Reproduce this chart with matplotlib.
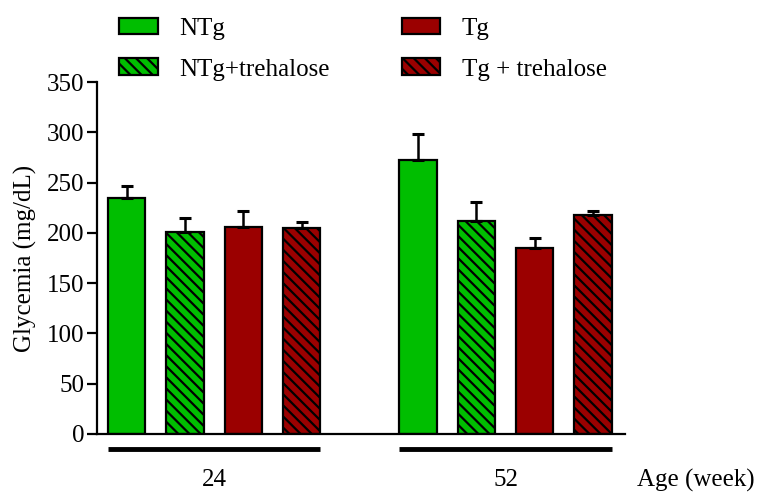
import numpy as np
import matplotlib
matplotlib.use('Agg')
import matplotlib.pyplot as plt

# values
ages = ['24', '52']
groups = ['NTg', 'NTg+trehalose', 'Tg', 'Tg + trehalose']
means = {
    'NTg': [235, 272],
    'NTg+trehalose': [201, 212],
    'Tg': [206, 185],
    'Tg + trehalose': [205, 218],
}
errors = {
    'NTg': [12, 26],
    'NTg+trehalose': [14, 19],
    'Tg': [16, 10],
    'Tg + trehalose': [6, 4],
}

green = '#00BE00'
red = '#9B0000'
colors = [green, green, red, red]
hatches = [None, '\\\\\\', None, '\\\\\\']

plt.rcParams['font.family'] = ['Liberation Serif', 'DejaVu Serif']
plt.rcParams['hatch.linewidth'] = 1.6
fs = 18

fig = plt.figure(figsize=(7.61, 4.92), dpi=100)
ax = fig.add_axes([0.1275, 0.1179, 0.8213 - 0.1275, 0.8333 - 0.1179])

width = 0.64
for i, g in enumerate(groups):
    x = np.array([i, i + 5])
    ax.bar(x, means[g], width=width, color=colors[i], hatch=hatches[i],
           edgecolor='black', linewidth=1.6, label=g, zorder=2)
    ax.errorbar(x, means[g], yerr=[np.zeros(2), errors[g]], fmt='none',
                ecolor='black', elinewidth=1.8, capsize=4, capthick=2.2, zorder=3)

ax.set_xlim(-0.51, 8.55)
ax.set_ylim(0, 350)
ax.set_yticks(np.arange(0, 351, 50))
ax.set_xticks([])
ax.spines['top'].set_visible(False)
ax.spines['right'].set_visible(False)
ax.spines['left'].set_linewidth(1.6)
ax.spines['bottom'].set_linewidth(1.6)
ax.tick_params(axis='y', direction='out', length=7, width=1.6, pad=2, labelsize=fs)
ax.set_ylabel('Glycemia (mg/dL)', fontsize=fs, labelpad=7)

# group underlines and age labels below the axis
for k, age in enumerate(ages):
    start = k * 5
    ax.plot([start - 0.32, start + 3 + 0.32], [-15, -15], color='black',
            linewidth=3.5, clip_on=False, solid_capstyle='butt')
    ax.text(start + 1.5, -46, age, ha='center', va='center', fontsize=fs)
ax.text(10.78, -46, 'Age (week)', ha='right', va='center', fontsize=fs, clip_on=False)

fig.legend(loc='upper left', bbox_to_anchor=(0.127, 1.01), ncol=2, frameon=False,
           fontsize=fs, handlelength=1.55, handleheight=0.65, handletextpad=0.85,
           columnspacing=2.88, labelspacing=0.75)

fig.savefig('out.png', dpi=100)
